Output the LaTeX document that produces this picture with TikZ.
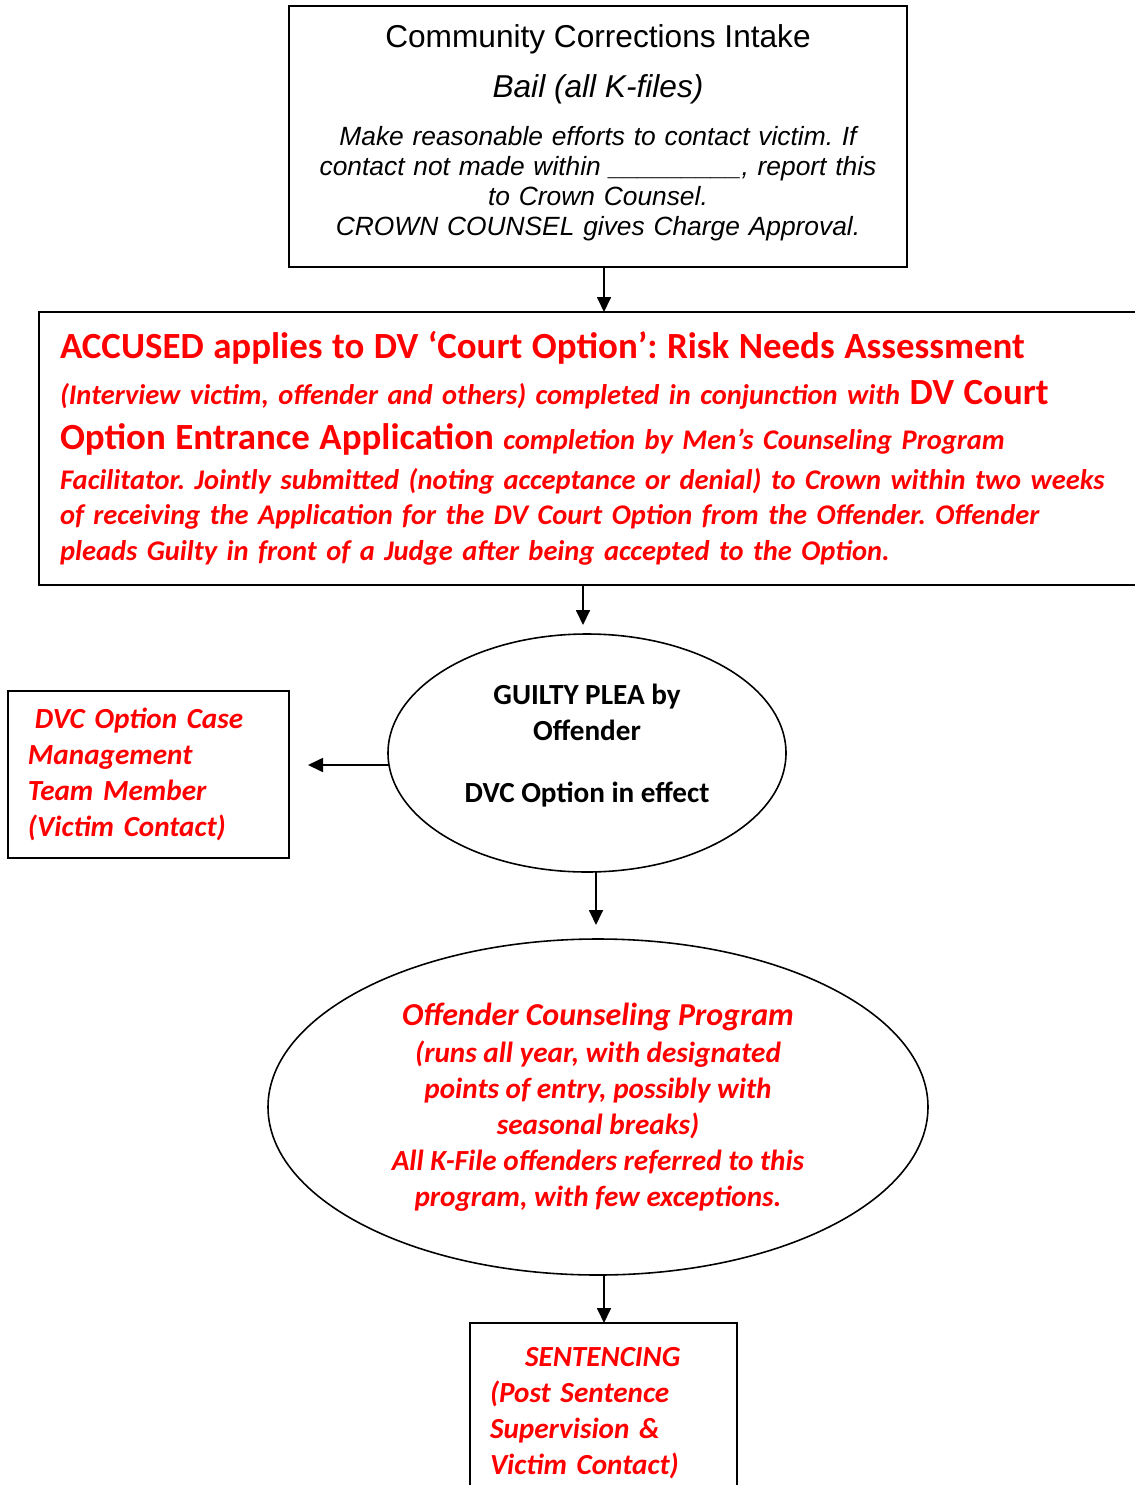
\documentclass[tikz,border=0pt]{standalone}
\usepackage{fontspec}
\setmainfont{Liberation Sans}
\newfontfamily\calibri{Carlito}
\usetikzlibrary{positioning,arrows.meta,shapes.geometric,calc}
\definecolor{courtRed}{HTML}{FF0000}
\definecolor{ink}{HTML}{000000}
\newcommand{\tightlines}{\lineskiplimit=-20pt\relax\frenchspacing}
\newcommand{\bigpart}[1]{{\upshape\fontsize{21}{24}\selectfont #1}}
\tikzset{
  intakebox/.style={rectangle, draw=ink, line width=1.1pt, outer sep=0pt, minimum width=12.36cm,
                    minimum height=5.22cm, text width=12cm, align=center,
                    font={\itshape\fontsize{15}{17}\selectfont\tightlines}},
  notebox/.style={rectangle, draw=ink, line width=1.1pt, outer sep=0pt, text=courtRed, align=left,
                  inner xsep=0.4cm, font={\calibri\bfseries\itshape\fontsize{16.6}{20.4}\selectfont\tightlines}},
  stage/.style={ellipse, draw=ink, line width=0.9pt, outer sep=0pt, align=center, inner sep=0pt,
                font={\calibri\bfseries\fontsize{16.6}{20.4}\selectfont\tightlines}},
  flow/.style={-{Triangle[length=3mm,width=2.8mm]}, line width=1pt, draw=ink}
}

\begin{document}
\begin{tikzpicture}
\useasboundingbox (0,0) rectangle (22.68,-29.7);
\node[intakebox] (intake) at (11.96,-2.73)
  {{\upshape\fontsize{18}{20}\selectfont Community Corrections Intake}\\[11.9pt]
  {\fontsize{18}{20}\selectfont Bail (all K-files)}\\[10.2pt]
  Make reasonable efforts to contact victim. If\\
  contact not made within \_\_\_\_\_\_\_\_\_, report this\\
  to Crown Counsel.\\
  CROWN COUNSEL gives Charge Approval.\rule[-7.7pt]{0pt}{7.7pt}};
\node[notebox, below=0.9cm of intake, xshift=-0.07cm, minimum width=22.22cm,
      minimum height=5.46cm, text width=21.38cm, inner xsep=0.42cm,
      font={\calibri\bfseries\itshape\fontsize{16.2}{20.4}\selectfont\tightlines}] (accused)
  {\bigpart{ACCUSED applies to DV ‘Court Option’: Risk Needs Assessment}\\[5.6pt]
  (Interview victim, offender and others) completed in conjunction with \bigpart{DV Court}\\[5.1pt]
  \bigpart{Option Entrance Application} completion by Men’s Counseling Program\\[2.3pt]
  Facilitator. Jointly submitted (noting acceptance or denial) to Crown within two weeks\\
  of receiving the Application for the DV Court Option from the Offender. Offender\\
  pleads Guilty in front of a Judge after being accepted to the Option.};
\node[stage, below=0.98cm of accused, xshift=-0.15cm, minimum width=7.96cm,
      minimum height=4.76cm] (guilty)
  {GUILTY PLEA by\\ Offender\\[14.7pt] DVC Option in effect\rule[-11.3pt]{0pt}{0pt}};
\node[notebox, left=1.98cm of guilty, yshift=-0.43cm, minimum width=5.62cm,
      minimum height=3.34cm, text width=4.82cm] (case)
  {\hspace*{0.14cm}DVC Option Case\\ Management\\ Team Member\\ (Victim Contact)};
\node[stage, below=1.34cm of guilty, xshift=0.22cm, minimum width=13.2cm,
      minimum height=6.72cm, text=courtRed,
      font={\calibri\bfseries\itshape\fontsize{16.6}{20.4}\selectfont\tightlines}] (program)
  {{\fontsize{18.2}{20}\selectfont Offender Counseling Program}\\[1pt]
  (runs all year, with designated\\
  points of entry, possibly with\\
  seasonal breaks)\\
  All K-File offenders referred to this\\
  program, with few exceptions.};
\node[notebox, below=0.96cm of program, xshift=0.11cm, minimum width=5.34cm,
      minimum height=3.6cm, text width=4.54cm] (sentence)
  {\hspace*{0.7cm}SENTENCING\\ (Post Sentence\\ Supervision \&\\ Victim Contact)};

\draw[flow] ($(intake.south)+(0.12,0)$) -- ($(intake.south |- accused.north)+(0.12,0)$);
\draw[flow] ($(guilty.north |- accused.south)+(-0.08,0)$) -- ($(guilty.north)+(-0.08,0.18)$);
\draw[flow] ($(guilty.west)+(0.02,-0.24)$) -- ($(case.east |- guilty.west)+(0.38,-0.24)$);
\draw[flow] ($(guilty.south)+(0.18,0)$) -- ($(guilty.south |- program.north)+(0.18,0.28)$);
\draw[flow] ($(program.south)+(0.12,0)$) -- ($(program.south |- sentence.north)+(0.12,0)$);
\end{tikzpicture}
\end{document}
